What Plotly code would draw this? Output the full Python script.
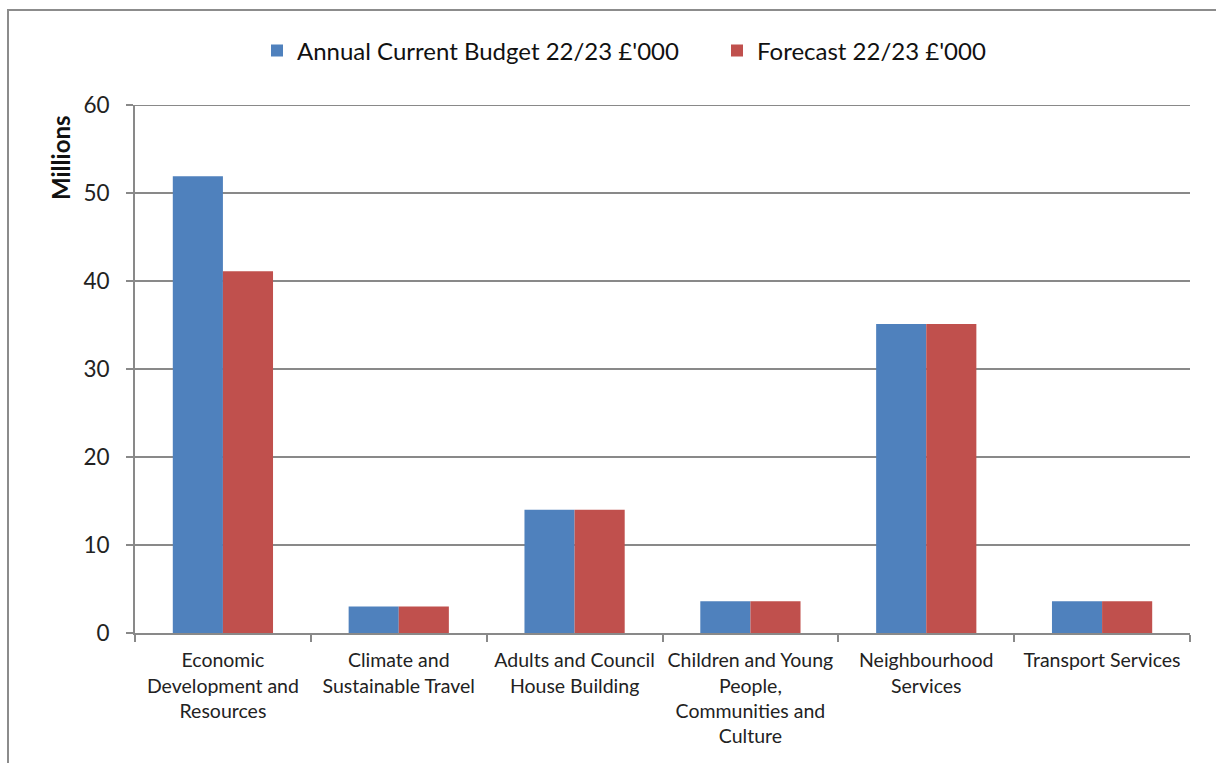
import plotly.graph_objects as go

categories = [
    "Economic<br>Development and<br>Resources",
    "Climate and<br>Sustainable Travel",
    "Adults and Council<br>House Building",
    "Children and Young<br>People,<br>Communities and<br>Culture",
    "Neighbourhood<br>Services",
    "Transport Services",
]
budget = [51.9, 3.0, 14.0, 3.6, 35.1, 3.6]
forecast = [41.1, 3.0, 14.0, 3.6, 35.1, 3.6]
series_names = ["Annual Current Budget 22/23 £'000", "Forecast 22/23 £'000"]
y_ticks = [0, 10, 20, 30, 40, 50, 60]

FONT = "Lato"
W, H = 1216, 763
ml, mr, mt, mb = 135, 26, 105, 130
pw, ph = W - ml - mr, H - mt - mb

fig = go.Figure()
fig.add_trace(go.Bar(x=categories, y=budget, name=series_names[0], legend="legend",
                     showlegend=True,
                     marker=dict(color="#4F81BD", line=dict(width=0))))
fig.add_trace(go.Bar(x=categories, y=forecast, name=series_names[1], legend="legend2",
                     showlegend=True,
                     marker=dict(color="#C0504D", line=dict(width=0))))

leg_common = dict(orientation="h", xanchor="left", y=1.0 + (105 - 51) / ph,
                  yanchor="middle", font=dict(size=24, family=FONT, color="#111"),
                  itemwidth=30, bgcolor="rgba(0,0,0,0)")

fig.update_layout(
    width=W, height=H,
    margin=dict(l=ml, r=mr, t=mt, b=mb),
    paper_bgcolor="white", plot_bgcolor="white",
    showlegend=True,
    barmode="group", bargap=0.43, bargroupgap=0,
    font=dict(family=FONT, color="#1a1a1a"),
    legend=dict(x=(257 - ml) / pw, **leg_common),
    legend2=dict(x=(717 - ml) / pw, **leg_common),
    xaxis=dict(
        type="category", tickson="boundaries", ticks="outside", ticklen=7,
        tickwidth=2, tickcolor="#898989", showline=True, linecolor="#898989",
        linewidth=2, showgrid=False, tickfont=dict(size=19.5, family=FONT, color="#222"),
        ticklabelstandoff=9,
    ),
    yaxis=dict(
        range=[0, 60], tickvals=y_ticks, ticks="outside", ticklen=7, tickwidth=2,
        tickcolor="#898989", showline=True, linecolor="#898989", linewidth=2,
        showgrid=True, gridcolor="#898989", gridwidth=2, zeroline=False,
        tickfont=dict(size=22.5, family=FONT, color="#222"),
        ticklabelstandoff=12,
    ),
    annotations=[dict(text="<b>Millions</b>", xref="paper", yref="paper",
                      x=(60 - ml) / pw, y=(633 - 158) / ph, xanchor="center",
                      yanchor="middle", textangle=-90, showarrow=False,
                      font=dict(size=24, family=FONT, color="#111"))],
    shapes=[
        dict(type="rect", xref="paper", yref="paper",
             x0=(8 - ml) / pw, x1=(W + 20 - ml) / pw,
             y0=-(mb + 20) / ph, y1=1 + (mt - 10) / ph,
             line=dict(color="#8c8c8c", width=2), fillcolor="rgba(0,0,0,0)",
             layer="below"),
        dict(type="line", xref="paper", yref="y", x0=0, x1=1,
             y0=y_ticks[-1], y1=y_ticks[-1],
             line=dict(color="#898989", width=2), layer="below"),
    ],
)

fig.write_html("out.html")
